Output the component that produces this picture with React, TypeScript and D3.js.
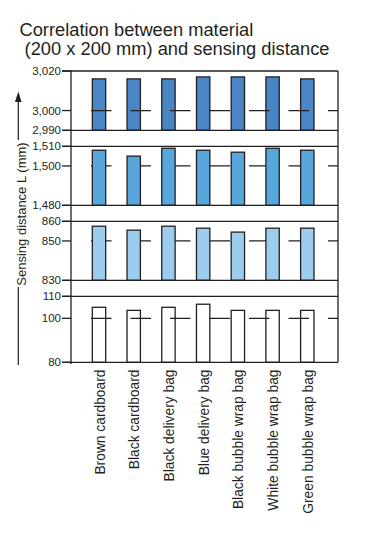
import React from "react";
import * as d3 from "d3";

const categories = [
  "Brown cardboard",
  "Black cardboard",
  "Black delivery bag",
  "Blue delivery bag",
  "Black bubble wrap bag",
  "White bubble wrap bag",
  "Green bubble wrap bag",
];

const values3000 = [3016, 3016, 3016, 3017, 3017, 3017, 3016];
const values1500 = [1508, 1505, 1509, 1508, 1507, 1509, 1508];
const values850 = [857.5, 855.5, 857.5, 856.5, 854.5, 856.5, 856.5];
const values100 = [105, 103.6, 105, 106.4, 103.6, 103.6, 103.6];

const ticks3000 = [2990, 3000, 3020];
const ticks1500 = [1480, 1500, 1510];
const ticks850 = [830, 850, 860];
const ticks100 = [80, 100, 110];

const titleLines = ["Correlation between material", " (200 x 200 mm) and sensing distance"];
const yLabel = "Sensing distance L (mm)";

const INK = "#231f20";
const FONT = "'Liberation Sans', Arial, Helvetica, sans-serif";

const panels = [
  { values: values3000, ticks: ticks3000, top: 71, bottom: 130.3, fill: "#4a86c5", lineOnTop: true },
  { values: values1500, ticks: ticks1500, top: 146.3, bottom: 205.3, fill: "#58a7dc", lineOnTop: false },
  { values: values850, ticks: ticks850, top: 221.3, bottom: 280.3, fill: "#9ccdee", lineOnTop: false },
  { values: values100, ticks: ticks100, top: 296.3, bottom: 362.3, fill: "#ffffff", lineOnTop: true },
];

const AX_LEFT = 71;
const AX_RIGHT = 338;

export default function App() {
  const x = d3
    .scaleBand<string>()
    .domain(categories)
    .range([81.65, 324.65])
    .paddingInner(0.615)
    .paddingOuter(0.3075);
  const fmt = d3.format(",");

  return (
    <svg
      width={380}
      height={540}
      style={{ position: "absolute", left: 0, top: 0, display: "block", background: "#fff" }}
      fontFamily={FONT}
    >
      <rect x={0} y={0} width={380} height={540} fill="#fff" />
      {/* title */}
      <text x={19.5} y={35.5} fontSize={18.3} fill={INK}>
        {titleLines[0]}
      </text>
      <text x={19.5} y={54.8} fontSize={18.3} fill={INK} style={{ whiteSpace: "pre" }}>
        {titleLines[1]}
      </text>

      {panels.map((p, pi) => {
        const y = d3
          .scaleLinear()
          .domain([p.ticks[0], p.ticks[p.ticks.length - 1]])
          .range([p.bottom, p.top]);
        const ref = p.ticks[1];
        const refLine = (
          <line
            x1={91}
            x2={AX_RIGHT}
            y1={y(ref)}
            y2={y(ref)}
            stroke={INK}
            strokeWidth={1.2}
            strokeDasharray="20.5 19"
          />
        );
        return (
          <g key={pi}>
            {!p.lineOnTop && refLine}
            {p.values.map((v, i) => (
              <rect
                key={i}
                x={x(categories[i])}
                y={y(v)}
                width={x.bandwidth()}
                height={y(p.ticks[0]) - y(v)}
                fill={p.fill}
                stroke={INK}
                strokeWidth={1.3}
              />
            ))}
            {p.lineOnTop && refLine}
            <line x1={62} x2={AX_RIGHT} y1={y(p.ticks[0])} y2={y(p.ticks[0])} stroke={INK} strokeWidth={1.3} />
            <line
              x1={62}
              x2={AX_RIGHT}
              y1={y(p.ticks[p.ticks.length - 1])}
              y2={y(p.ticks[p.ticks.length - 1])}
              stroke={INK}
              strokeWidth={1.3}
            />
            {p.ticks.map((t) => (
              <g key={t}>
                <line x1={62} x2={AX_LEFT} y1={y(t)} y2={y(t)} stroke={INK} strokeWidth={1.3} />
                <text x={61} y={y(t)} dy="0.35em" textAnchor="end" fontSize={11.5} fill={INK}>
                  {fmt(t)}
                </text>
              </g>
            ))}
          </g>
        );
      })}

      <line x1={AX_LEFT} x2={AX_LEFT} y1={71} y2={364} stroke={INK} strokeWidth={1.3} />
      <line x1={AX_RIGHT} x2={AX_RIGHT} y1={71} y2={362.3} stroke={INK} strokeWidth={1.3} />

      {categories.map((c) => (
        <text
          key={c}
          transform={`translate(${(x(c) as number) + x.bandwidth() / 2 + 5.5},${369.5}) rotate(-90)`}
          textAnchor="end"
          fontSize={13.8}
          fill={INK}
        >
          {c}
        </text>
      ))}

      <text transform={`translate(26,214) rotate(-90)`} textAnchor="middle" fontSize={13} fill={INK}>
        {yLabel}
      </text>
      <line x1={18.3} x2={18.3} y1={140} y2={100} stroke={INK} strokeWidth={1.2} />
      <path d="M18.3,91.5 L15,102 L21.6,102 Z" fill={INK} />
      <line x1={18.3} x2={18.3} y1={287} y2={365} stroke={INK} strokeWidth={1.2} />
    </svg>
  );
}
